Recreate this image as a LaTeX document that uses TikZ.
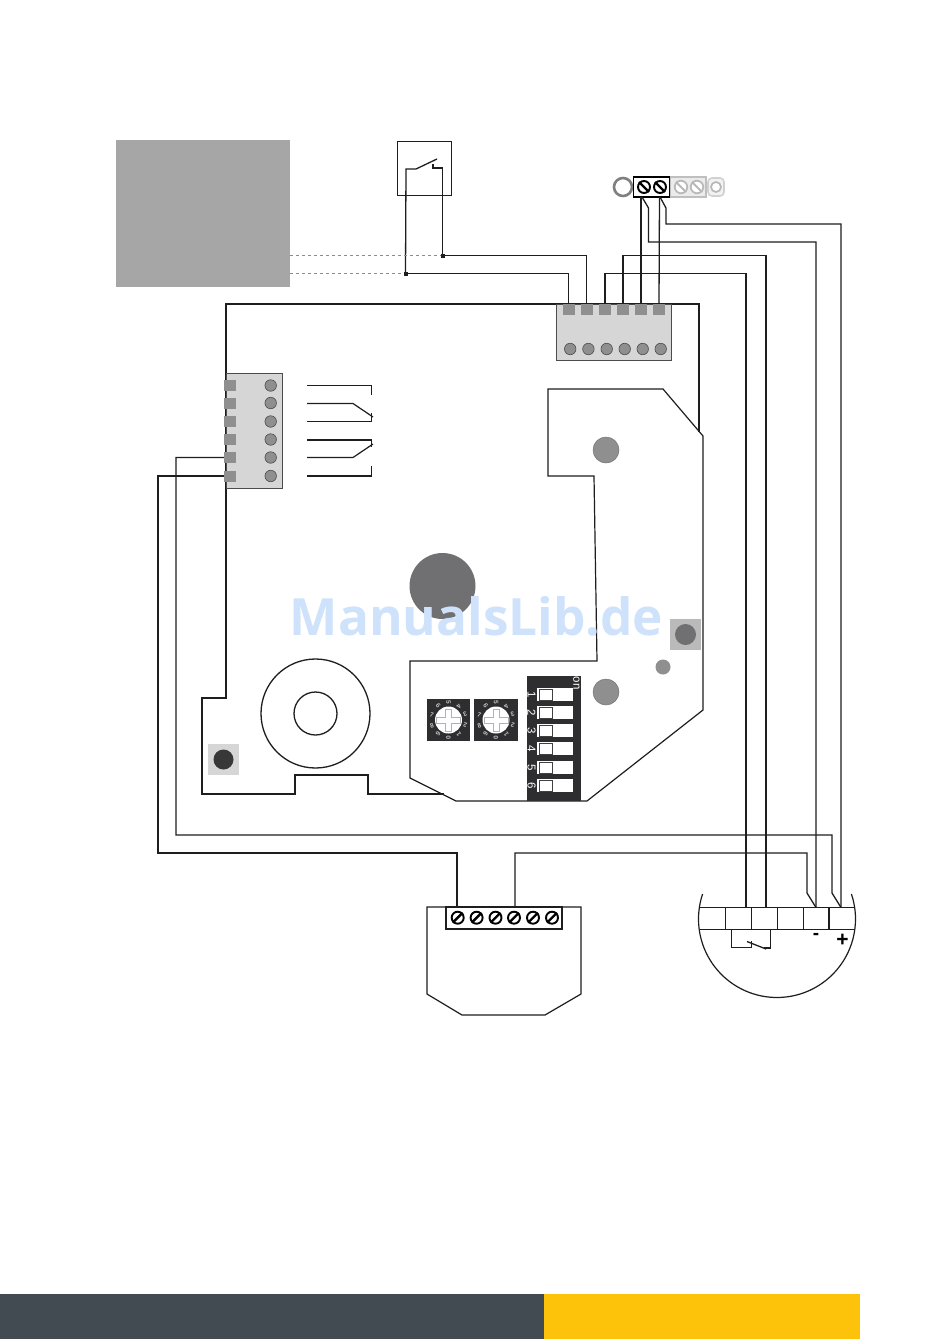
\documentclass[tikz,border=0pt]{standalone}
\usepackage{fontspec}
\setmainfont{Liberation Sans}
\newfontfamily\wmfont{Open Sans}
\usetikzlibrary{calc}
\definecolor{wire}{HTML}{1E1E1E}
\definecolor{blockgray}{HTML}{D6D6D6}
\definecolor{pingray}{HTML}{8F8F8F}
\definecolor{midgray}{HTML}{707072}
\definecolor{darkpanel}{HTML}{2E2E30}
\definecolor{wmblue}{HTML}{CFE2FB}
\tikzset{
  x=1pt,y=-1pt,
  wireline/.style={draw=wire,line width=1.3pt,line join=miter},
  boardline/.style={draw=wire,line width=1.2pt,line join=miter},
  pinsq/.style={rectangle,fill=pingray,inner sep=0pt,minimum width=12pt,minimum height=11pt},
  pinhole/.style={circle,fill=pingray,draw=black!70,line width=.6pt,inner sep=0pt,minimum size=11.5pt},
  screwhead/.style={circle,fill=white,draw=black,line width=1.9pt,inner sep=0pt,minimum size=12pt},
  ghostscrew/.style={circle,fill=white,draw=black!28,line width=1.7pt,inner sep=0pt,minimum size=12.5pt},
  dipnum/.style={text=white,font=\fontsize{11.5}{11.5}\selectfont,rotate=-90,inner sep=0pt},
  rotnum/.style={text=black!25,font=\fontsize{6.5}{6.5}\selectfont\bfseries,inner sep=0pt},
}
\begin{document}
\begin{tikzpicture}
\useasboundingbox (0,0) rectangle (950,1339);
\fill[white] (0,0) rectangle (950,1339);
% footer
\fill[fill={rgb,255:red,66;green,74;blue,82}] (0,1294) rectangle (544,1339);
\fill[fill={rgb,255:red,253;green,194;blue,10}] (544,1294) rectangle (860,1339);
% grey panel
\node[rectangle,fill=black!35,inner sep=0pt,minimum width=174pt,minimum height=147pt] (panel) at (203,213.5) {};
% board outline
\draw[boardline] (699,432) -- (699,304) -- (226,304) -- (226,698) -- (202,698) -- (202,794) -- (295,794) -- (295,775) -- (368,775) -- (368,794) -- (444,794);
\draw[boardline] (548,389) -- (663,389) -- (703,436) -- (703,710) -- (587,801) -- (456,801) -- (410,778) -- (410,661) -- (597,661) -- (594,476) -- (548,476) -- cycle;
% top terminal block
\node[rectangle,fill=blockgray,draw=black!70,line width=1pt,inner sep=0pt,minimum width=115pt,minimum height=56pt] (topblock) at (613.5,332) {};
\foreach \i/\xx in {1/568.5,2/586.7,3/605,4/623,5/641,6/659}{
  \node[pinsq] (a\i) at (\xx,309) {};
  \node[pinhole] (ah\i) at (\xx+1.7,349) {};
}
% left terminal block
\node[rectangle,fill=blockgray,draw=black!70,line width=1pt,inner sep=0pt,minimum width=56pt,minimum height=115pt] (leftblock) at (254,430.5) {};
\foreach \i/\yy in {1/385.5,2/403,3/421.5,4/439.5,5/457.5,6/476}{
  \node[pinsq] (b\i) at (230,\yy) {};
  \node[pinhole] (bh\i) at (270.7,\yy) {};
}
% relay contacts
\draw[boardline] (307,385.5) -- (371.5,385.5) -- (371.5,395);
\draw[boardline] (307,403.5) -- (353,403.5) -- (373,417);
\draw[boardline] (307,421.5) -- (371.5,421.5) -- (371.5,413);
\draw[boardline] (307,440) -- (371.5,440) -- (371.5,447);
\draw[boardline] (307,457.5) -- (353,457.5) -- (373,444);
\draw[boardline,line width=1.6pt] (307,476) -- (371.5,476) -- (371.5,466);
% discs on board
\node[circle,fill=midgray,inner sep=0pt,minimum size=66pt] (bigdisc) at (442.5,586) {};
\node[circle,fill=pingray,draw=black!55,line width=.5pt,inner sep=0pt,minimum size=26pt] (disc1) at (606,450) {};
\node[circle,fill=pingray,draw=black!55,line width=.5pt,inner sep=0pt,minimum size=26pt] (disc2) at (606,692) {};
\node[circle,fill=pingray,inner sep=0pt,minimum size=15pt] (disc3) at (663,667) {};
\node[rectangle,fill=black!27,inner sep=0pt,minimum size=31pt] (sq1) at (685.5,634.5) {};
\node[circle,fill=midgray,inner sep=0pt,minimum size=21pt] (disc4) at (sq1) {};
\node[rectangle,fill=blockgray,inner sep=0pt,minimum size=31pt] (sq2) at (223.5,759.5) {};
\node[circle,fill=black!78,inner sep=0pt,minimum size=20pt] (disc5) at (sq2) {};
% ring
\node[circle,draw=wire,line width=1.3pt,inner sep=0pt,minimum size=109pt] (ringout) at (315.5,713.5) {};
\node[circle,draw=wire,line width=1.3pt,inner sep=0pt,minimum size=43pt] (ringin) at (ringout) {};
% rotary switches
\foreach \n/\cx/\w in {1/448.5/43,2/496/44}{
  \node[rectangle,fill=darkpanel,inner sep=0pt,minimum width=\w pt,minimum height=42pt] (rot\n) at (\cx,720) {};
  \foreach \d [count=\k from 0] in {0,1,2,3,4,5,6,7,8,9}
    \node[rotnum,rotate=\k*36+90] at ($(rot\n)+(\k*36-90:17.5pt)$) {\d};
  \node[circle,fill=white,inner sep=0pt,minimum size=27pt] at (rot\n) {};
  \draw[black!30,line width=.7pt] ($(rot\n)+(-12,-3)$) -- ($(rot\n)+(-3,-3)$) -- ($(rot\n)+(-3,-11)$) -- ($(rot\n)+(3,-11)$) -- ($(rot\n)+(3,-3)$) -- ($(rot\n)+(12,-3)$) -- ($(rot\n)+(12,3)$) -- ($(rot\n)+(3,3)$) -- ($(rot\n)+(3,11)$) -- ($(rot\n)+(-3,11)$) -- ($(rot\n)+(-3,3)$) -- ($(rot\n)+(-12,3)$) -- cycle;
}
% DIP switch
\node[rectangle,fill=darkpanel,inner sep=0pt,minimum width=54pt,minimum height=125pt] (dip) at (554,738.5) {};
\node[dipnum] (dipon) at (576.5,683) {on};
\foreach \i/\yy in {1/694.5,2/712.5,3/730.5,4/748.5,5/767.5,6/785.5}{
  \node[rectangle,fill=white,inner sep=0pt,minimum width=36pt,minimum height=13pt] (dipslot\i) at (555,\yy) {};
  \node[rectangle,fill=white,draw=black!75,line width=.8pt,inner sep=0pt,minimum width=13pt,minimum height=11pt] (diptog\i) at (546,\yy) {};
  \node[dipnum] at (531.5,\yy) {\i};
}
% switch box
\node[rectangle,draw=wire,line width=1.3pt,inner sep=0pt,minimum size=54.5pt] (swbox) at (424.5,168.5) {};
\node[rectangle,fill=wire,inner sep=0pt,minimum size=4pt] (j1) at (442.5,255.5) {};
\node[rectangle,fill=wire,inner sep=0pt,minimum size=4pt] (j2) at (405.5,273.5) {};
\draw[wireline] (j2.center) -- (406,169) -- (416,169) -- (437,159);
\draw[wireline] (433,164) -- (433,168) -- (442.5,168) -- (j1.center);
% dashed feeds
\draw[black!45,line width=.8pt,dash pattern=on 3pt off 3pt] (panel.east |- j1) -- (j1);
\draw[black!45,line width=.8pt,dash pattern=on 3pt off 3pt] (panel.east |- j2) -- (j2);
% top small terminal
\node[circle,draw=black!50,line width=2.6pt,inner sep=0pt,minimum size=18pt] (oring) at (623,187) {};
\node[rectangle,draw=black!25,fill=black!8,line width=1.6pt,inner sep=0pt,minimum width=36pt,minimum height=20pt] (ghostbox) at (688,187) {};
\node[ghostscrew] (g1) at (681,187) {};
\node[ghostscrew] (g2) at (697,187) {};
\node[rectangle,rounded corners=4pt,draw=black!18,fill=black!5,line width=1.6pt,inner sep=0pt,minimum width=16pt,minimum height=18pt] (g3box) at (716,187) {};
\node[ghostscrew,minimum size=10pt] (g3) at (716,187) {};
\draw[black!28,line width=1.8pt] (g1.north west) -- (g1.south east);
\draw[black!28,line width=1.8pt] (g2.north west) -- (g2.south east);
\node[rectangle,fill=white,draw=black,line width=1.5pt,inner sep=0pt,minimum width=36pt,minimum height=20pt] (term) at (651.5,187) {};
\node[screwhead] (s1) at (644,187) {};
\node[screwhead] (s2) at (660,187) {};
\draw[black,line width=2.4pt] (s1.north west) -- (s1.south east);
\draw[black,line width=2.4pt] (s2.north west) -- (s2.south east);
% bottom module
\draw[boardline] (427,907) -- (581,907) -- (581,994) -- (545,1015) -- (462,1015) -- (427,994) -- cycle;
\node[rectangle,draw=wire,line width=1.2pt,inner sep=0pt,minimum width=116pt,minimum height=22pt] (modterm) at (504,918) {};
\foreach \i/\xx in {1/457.7,2/476.6,3/495.5,4/514,5/533,6/552}{
  \node[screwhead] (m\i) at (\xx,917.7) {};
  \draw[black,line width=2.4pt] (m\i.south west) -- (m\i.north east);
}
% right device
\draw[wire,line width=1.2pt] plot[domain=-18.6:198.6,samples=70] ({777+78.5*cos(\x)},{919+78.5*sin(\x)});
\draw[wire,line width=1.2pt] (700,907.5) -- (855,907.5) (700,929.5) -- (855,929.5);
\node[inner sep=0pt] (c1) at (738.5,907.5) {};
\node[inner sep=0pt] (c2) at (764.5,907.5) {};
\node[inner sep=0pt] (c3) at (816,907.5) {};
\node[inner sep=0pt] (c4) at (841,907.5) {};
\foreach \xx in {725.7,751.7,777.5,803.5,829}
  \draw[wire,line width=1.3pt] (\xx,907.5) -- (\xx,929.5);
\draw[wire,line width=1.1pt] (731.5,929.5) -- (731.5,947.5) -- (751.7,947.5) -- (751.7,941);
\draw[wire,line width=1.3pt] (747,941.5) -- (766,949);
\draw[wire,line width=1.1pt] (764,948) -- (770.5,948) -- (770.5,929.5);
\node[inner sep=0pt,font=\fontsize{19}{19}\selectfont\bfseries] (minus) at (816,936) {-};
\node[inner sep=0pt,font=\fontsize{21}{21}\selectfont\bfseries] (plus) at (842.5,940) {+};
% wires
\draw[wireline] (j1.center) -| (a2.north);
\draw[wireline] (j2.center) -| (a1.north);
\draw[wireline] (a3.north) |- (746,273.5) -- (746,907.5);
\draw[wireline] (a4.north) |- (766,255.5) -- (766,907.5);
\draw[wireline] (a5.north) -- (641,197);
\draw[wireline] (a6.north) -- (659.5,197);
\draw[wireline] (642,197) -- (648.5,208) -- (648.5,242) -- (816,242) -- (c3);
\draw[wireline] (660,197) -- (666,208) -- (666,224) -- (841,224) -- (c4);
\draw[wireline] (b5.west) -| (176,835) -- (832,835) -- (832,893) -- (841,907.5);
\draw[wireline] (b6.west) -| (158,853) -- (457,853) -- (457,907);
\draw[wireline] (515,907) -- (515,853) -- (807,853) -- (807,893) -- (816,907.5);
% watermark
\node[text=wmblue,inner sep=0pt,font=\wmfont\bfseries\fontsize{51.3}{51.3}\selectfont] (wm) at (476.5,616) {ManualsLib.de};
\end{tikzpicture}
\end{document}
